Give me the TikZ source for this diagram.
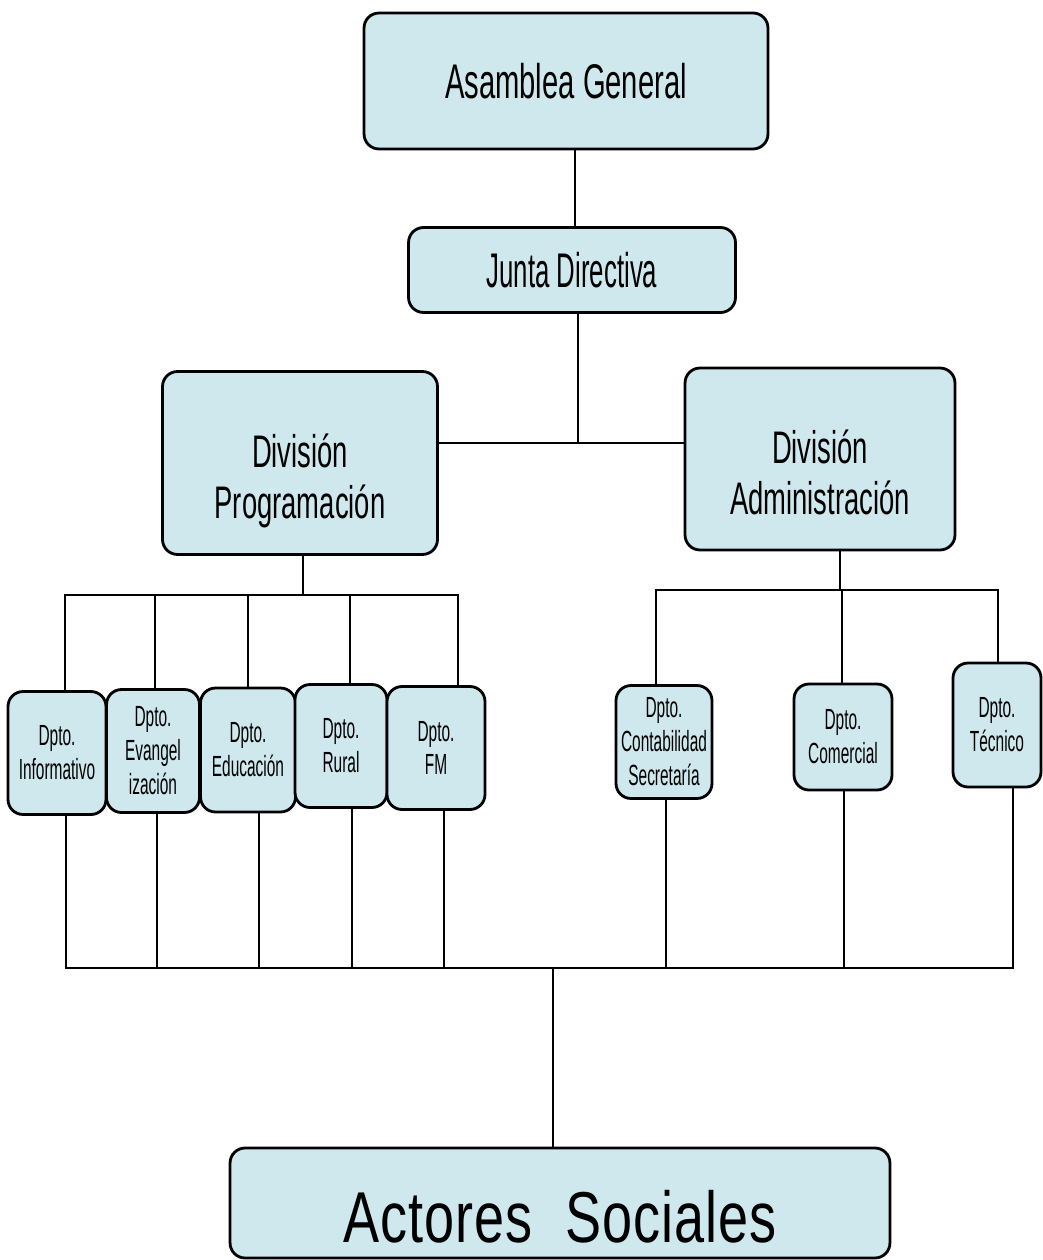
\documentclass[tikz,border=0pt]{standalone}
\usepackage{fontspec}
\setmainfont{Liberation Sans}
\newfontfamily\narrowfont{Liberation Sans}[FakeStretch=0.6]
\newfontfamily\narrowerfont{Liberation Sans}[FakeStretch=0.53]
\newfontfamily\spacedfont{Liberation Sans}[FakeStretch=0.75,LetterSpace=1.5]
\usetikzlibrary{calc}
\definecolor{boxfill}{RGB}{206,232,238}
% lowers a (multi-line) label inside its box
\newcommand{\dropby}[2]{\raisebox{-#1}[0pt][0pt]{\begin{tabular}{@{}c@{}}#2\end{tabular}}}

\begin{document}
\begin{tikzpicture}[x=0.02cm, y=-0.02cm,
    box/.style={draw, line width=1.6pt, fill=boxfill, rounded corners=0.3cm, inner sep=0pt, align=center},
    bigtext/.style={font=\narrowfont\fontsize{27.7}{31}\selectfont},
    divtext/.style={font=\narrowfont\fontsize{26}{29}\selectfont},
    smalltext/.style={font=\narrowerfont\fontsize{16.6}{19.3}\selectfont},
    link/.style={line width=1.1pt}]
    \useasboundingbox (0,0) rectangle (1042,1260);

    % top levels
    \node[box, bigtext, minimum width=8.08cm, minimum height=2.72cm] (asamblea) at (566,81) {Asamblea General};
    \node[box, bigtext, font=\narrowerfont\fontsize{27.7}{31}\selectfont, minimum width=6.54cm, minimum height=1.70cm] (junta) at (572,270) {Junta Directiva};
    \node[box, divtext, minimum width=5.50cm, minimum height=3.66cm] (divprog) at (300,463) {\dropby{0.62cm}{División\\Programación}};
    \node[box, divtext, minimum width=5.40cm, minimum height=3.64cm] (divadm) at (820,459) {\dropby{0.62cm}{División\\Administración}};

    % departments
    \node[box, smalltext, minimum width=1.96cm, minimum height=2.46cm] (informativo) at (57,753) {Dpto.\\Informativo};
    \node[box, smalltext, minimum width=1.86cm, minimum height=2.46cm] (evangel) at (153,751) {Dpto.\\Evangel\\ización};
    \node[box, smalltext, minimum width=1.90cm, minimum height=2.48cm] (educacion) at (248,750) {Dpto.\\Educación};
    \node[box, smalltext, minimum width=1.84cm, minimum height=2.46cm] (rural) at (341,746) {Dpto.\\Rural};
    \node[box, smalltext, minimum width=1.96cm, minimum height=2.46cm] (fm) at (436,748) {Dpto.\\FM};
    \node[box, smalltext, minimum width=1.92cm, minimum height=2.26cm] (contab) at (664,742) {Dpto.\\Contabilidad\\Secretaría};
    \node[box, smalltext, minimum width=1.96cm, minimum height=2.12cm] (comercial) at (843,737) {Dpto.\\Comercial};
    \node[box, smalltext, minimum width=1.76cm, minimum height=2.48cm] (tecnico) at (997,725) {Dpto.\\Técnico};

    \node[box, font=\spacedfont\fontsize{41}{45}\selectfont, minimum width=13.2cm, minimum height=2.2cm] (actores) at (560,1203) {\raisebox{-0.78cm}[0pt][0pt]{Actores\hspace{0.45em}Sociales}};

    % bus points
    \coordinate (topbus) at (578,443);
    \coordinate (progbus) at (303,595);
    \coordinate (admbus) at (840,590);
    \coordinate (basebus) at (553,968);

    \draw[link] ($(asamblea.south)+(9,0)$) -- ($(junta.north)+(3,0)$);
    \draw[link] ($(junta.south)+(6,0)$) -- (topbus);
    \draw[line width=1.5pt] (divprog.east |- topbus) -- (divadm.west |- topbus);

    \draw[link] (divprog.south -| progbus) -- (progbus);
    \draw[link] (divadm.south -| admbus) -- (admbus);
    \foreach \n/\dx in {informativo/8, evangel/2, educacion/0, rural/9, fm/22}
        \draw[link] ($(\n.north)+(\dx,0)$) |- (progbus);
    \foreach \n/\dx in {contab/-8, comercial/-1, tecnico/1}
        \draw[link] ($(\n.north)+(\dx,0)$) |- (admbus);

    % lower bus
    \foreach \n/\dx in {informativo/9, evangel/4, educacion/11, rural/11, fm/8, contab/2, comercial/1, tecnico/16}
        \draw[link] ($(\n.south)+(\dx,0)$) |- (basebus);
    \draw[link] (basebus) -- (basebus |- actores.north);
\end{tikzpicture}
\end{document}
